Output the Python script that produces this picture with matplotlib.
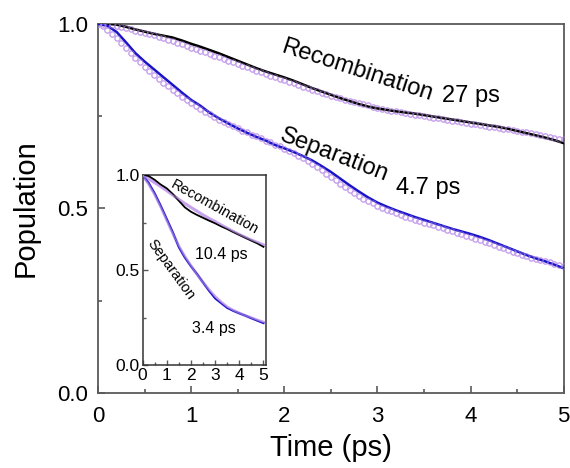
import matplotlib
matplotlib.use("Agg")
import matplotlib.pyplot as plt
import numpy as np
from matplotlib.ticker import MultipleLocator

plt.rcParams['font.family'] = ['Liberation Sans', 'DejaVu Sans']

# ---------------- main panel data ----------------
t_data = [round(0.1 * i, 2) for i in range(51)]
sep_data = [1.000, 0.995, 0.978, 0.950, 0.921, 0.898, 0.877, 0.856, 0.835, 0.814,
            0.794, 0.778, 0.759, 0.744, 0.730, 0.717, 0.705, 0.694, 0.684, 0.672,
            0.663, 0.653, 0.642, 0.630, 0.615, 0.599, 0.581, 0.563, 0.546, 0.530,
            0.516, 0.505, 0.495, 0.486, 0.477, 0.469, 0.461, 0.453, 0.445, 0.438,
            0.431, 0.423, 0.414, 0.404, 0.394, 0.384, 0.374, 0.365, 0.357, 0.348,
            0.338]
rec_data = [1.000, 1.000, 0.998, 0.992, 0.985, 0.979, 0.973, 0.968, 0.963, 0.955,
            0.946, 0.938, 0.929, 0.920, 0.910, 0.900, 0.890, 0.880, 0.871, 0.863,
            0.855, 0.846, 0.836, 0.826, 0.817, 0.808, 0.799, 0.791, 0.783, 0.776,
            0.771, 0.767, 0.763, 0.760, 0.757, 0.753, 0.749, 0.745, 0.741, 0.737,
            0.733, 0.729, 0.725, 0.721, 0.716, 0.710, 0.704, 0.698, 0.692, 0.685,
            0.677]

t_fit = [round(0.05 * i, 2) for i in range(101)]
sep_fit = [1.000, 0.993, 0.984, 0.973, 0.961, 0.948, 0.935, 0.921, 0.908, 0.896,
           0.884, 0.873, 0.862, 0.851, 0.841, 0.831, 0.821, 0.812, 0.803, 0.794,
           0.786, 0.778, 0.770, 0.762, 0.755, 0.748, 0.741, 0.735, 0.729, 0.723,
           0.717, 0.711, 0.706, 0.700, 0.695, 0.690, 0.684, 0.679, 0.673, 0.668,
           0.662, 0.656, 0.650, 0.643, 0.636, 0.628, 0.620, 0.612, 0.603, 0.594,
           0.585, 0.576, 0.567, 0.558, 0.550, 0.542, 0.534, 0.527, 0.520, 0.514,
           0.508, 0.502, 0.497, 0.492, 0.487, 0.482, 0.478, 0.474, 0.470, 0.466,
           0.462, 0.458, 0.454, 0.450, 0.446, 0.442, 0.438, 0.434, 0.430, 0.426,
           0.422, 0.418, 0.414, 0.410, 0.406, 0.401, 0.397, 0.392, 0.388, 0.383,
           0.379, 0.375, 0.371, 0.367, 0.363, 0.360, 0.357, 0.354, 0.351, 0.348,
           0.345]
rec_fit = [1.000, 0.999, 0.998, 0.996, 0.994, 0.991, 0.988, 0.985, 0.982, 0.979,
           0.976, 0.972, 0.969, 0.965, 0.961, 0.957, 0.953, 0.949, 0.945, 0.940,
           0.936, 0.932, 0.927, 0.923, 0.918, 0.914, 0.909, 0.905, 0.900, 0.896,
           0.891, 0.887, 0.882, 0.878, 0.873, 0.869, 0.864, 0.860, 0.856, 0.851,
           0.847, 0.843, 0.839, 0.834, 0.830, 0.826, 0.822, 0.818, 0.814, 0.810,
           0.806, 0.803, 0.799, 0.795, 0.792, 0.788, 0.785, 0.782, 0.779, 0.776,
           0.773, 0.770, 0.768, 0.765, 0.763, 0.760, 0.758, 0.756, 0.754, 0.752,
           0.750, 0.748, 0.746, 0.744, 0.742, 0.740, 0.738, 0.736, 0.734, 0.732,
           0.730, 0.728, 0.726, 0.724, 0.722, 0.720, 0.718, 0.716, 0.714, 0.712,
           0.710, 0.708, 0.706, 0.704, 0.701, 0.699, 0.697, 0.694, 0.692, 0.689,
           0.687]

# ---------------- inset data ----------------
t_in = [round(0.25 * i, 2) for i in range(21)]
rec_in = [1.000, 0.995, 0.975, 0.950, 0.930, 0.900, 0.865, 0.830, 0.807, 0.790,
          0.775, 0.760, 0.746, 0.730, 0.716, 0.700, 0.685, 0.670, 0.655, 0.640,
          0.622]
rec_in_fit = [1.000, 0.980, 0.960, 0.940, 0.918, 0.895, 0.872, 0.850, 0.830, 0.810,
              0.790, 0.772, 0.755, 0.737, 0.720, 0.703, 0.687, 0.672, 0.658, 0.645,
              0.632]
sep_in = [1.000, 0.960, 0.905, 0.840, 0.770, 0.700, 0.620, 0.565, 0.520, 0.480,
          0.435, 0.390, 0.350, 0.325, 0.300, 0.285, 0.272, 0.260, 0.246, 0.233,
          0.220]
sep_in_fit = [1.000, 0.955, 0.900, 0.835, 0.765, 0.695, 0.625, 0.570, 0.522, 0.478,
              0.435, 0.395, 0.360, 0.330, 0.305, 0.287, 0.273, 0.260, 0.248, 0.236,
              0.225]

spine_c = '#5a5a5a'
fit_c = '#c7a2ee'
blue_c = '#1a14c8'

fig = plt.figure(figsize=(5.7, 4.68), dpi=100)
ax = fig.add_axes([0.172, 0.160, 0.817, 0.789])

mk = dict(linestyle='none', marker='o', markersize=3.8, markerfacecolor='none',
          markeredgecolor=fit_c)
ax.plot(t_fit, rec_fit, markeredgewidth=0.9, zorder=2, **mk)
ax.plot(t_fit, sep_fit, markeredgewidth=0.9, zorder=2, **mk)
ax.plot(t_data, rec_data, color='black', lw=1.8, zorder=3)
ax.plot(t_data, sep_data, color=blue_c, lw=1.8, zorder=3)
ax.plot(t_fit, rec_fit, markeredgewidth=0.6, alpha=0.6, zorder=4, **mk)
ax.plot(t_fit, sep_fit, markeredgewidth=0.6, alpha=0.6, zorder=4, **mk)

ax.set_xlim(0, 5)
ax.set_ylim(0, 1.0)
ax.xaxis.set_minor_locator(MultipleLocator(0.5))
ax.yaxis.set_minor_locator(MultipleLocator(0.25))
ax.set_xticks([0, 1, 2, 3, 4, 5])
ax.set_xticklabels(['0', '1', '2', '3', '4', '5'])
ax.set_yticks([0.0, 0.5, 1.0])
ax.set_yticklabels(['0.0', '0.5', '1.0'])
ax.tick_params(which='both', direction='in', color=spine_c, width=1.2, labelsize=16)
ax.tick_params(axis='x', which='major', length=5, pad=9)
ax.tick_params(axis='y', which='major', length=5, pad=7)
ax.tick_params(which='minor', length=3)
for s in ax.spines.values():
    s.set_color(spine_c)
    s.set_linewidth(1.3)
ax.set_xlabel('Time (ps)', fontsize=21, labelpad=5)
ax.set_ylabel('Population', fontsize=21, labelpad=13)

ax.text(2.78, 0.872, 'Recombination', fontsize=17, rotation=-18,
        rotation_mode='anchor', ha='center', va='center')
ax.text(4.0, 0.806, '27 ps', fontsize=17, ha='center', va='center')
ax.text(2.54, 0.645, 'Separation', fontsize=17, rotation=-21,
        rotation_mode='anchor', ha='center', va='center')
ax.text(3.55, 0.556, '4.7 ps', fontsize=17, ha='center', va='center')

# ---------------- inset ----------------
ai = fig.add_axes([0.250, 0.220, 0.2165, 0.406])
ai.plot(t_in, rec_in_fit, color=fit_c, lw=2.2, zorder=2)
ai.plot(t_in, sep_in_fit, color=fit_c, lw=2.2, zorder=2)
ai.plot(t_in, rec_in, color='black', lw=1.3, zorder=3)
ai.plot(t_in, sep_in, color=blue_c, lw=1.3, zorder=3)
ai.plot(t_in, rec_in_fit, color=fit_c, lw=0.9, alpha=0.6, zorder=4)
ai.plot(t_in, sep_in_fit, color=fit_c, lw=0.9, alpha=0.6, zorder=4)
ai.set_xlim(0, 5.1)
ai.set_ylim(0, 1.0)
ai.set_xticks([0, 1, 2, 3, 4, 5])
ai.set_xticklabels(['0', '1', '2', '3', '4', '5'])
ai.set_yticks([0.0, 0.5, 1.0])
ai.set_yticklabels(['0.0', '0.5', '1.0'])
ai.yaxis.set_minor_locator(MultipleLocator(0.25))
ai.xaxis.set_minor_locator(MultipleLocator(0.5))
ai.tick_params(which='both', direction='in', color=spine_c, width=1.0, labelsize=12.5)
ai.tick_params(which='major', length=3.5, pad=2)
ai.tick_params(which='minor', length=2)
for s in ai.spines.values():
    s.set_color('#333333')
    s.set_linewidth(1.1)

ai.text(2.98, 0.83, 'Recombination', fontsize=10.5, rotation=-29,
        rotation_mode='anchor', ha='center', va='center')
ai.text(3.25, 0.58, '10.4 ps', fontsize=11.5, ha='center', va='center')
ai.text(1.19, 0.50, 'Separation', fontsize=10.5, rotation=-54,
        rotation_mode='anchor', ha='center', va='center')
ai.text(2.93, 0.19, '3.4 ps', fontsize=11.5, ha='center', va='center')

fig.savefig('out.png', dpi=100)
